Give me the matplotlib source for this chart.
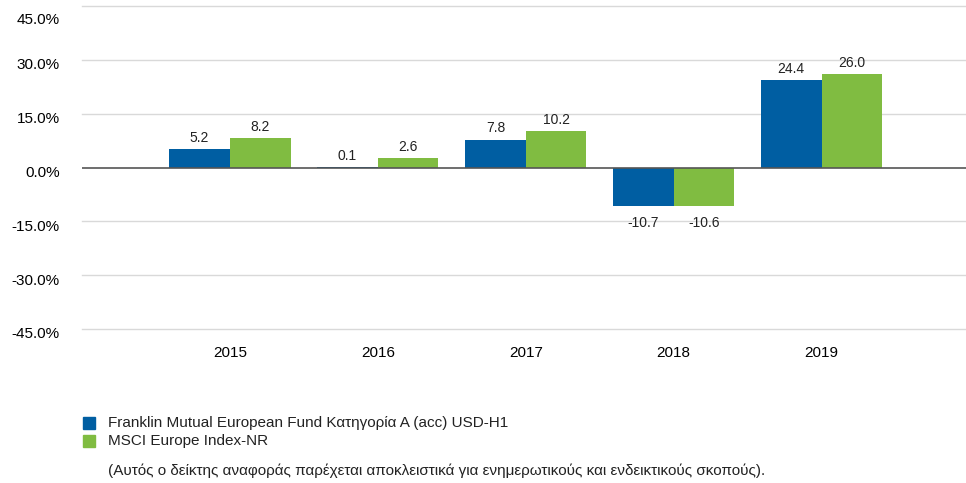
import matplotlib.pyplot as plt
import matplotlib.transforms as mtransforms
import numpy as np

years = ["2015", "2016", "2017", "2018", "2019"]
fund = [5.2, 0.1, 7.8, -10.7, 24.4]
index = [8.2, 2.6, 10.2, -10.6, 26.0]
yticks = [45, 30, 15, 0, -15, -30, -45]

fund_name = "Franklin Mutual European Fund Κατηγορία A (acc) USD-H1"
index_name = "MSCI Europe Index-NR"
note = "(Αυτός ο δείκτης αναφοράς παρέχεται αποκλειστικά για ενημερωτικούς και ενδεικτικούς σκοπούς)."

BLUE = "#005ea2"
GREEN = "#80bc41"

plt.rcParams["font.family"] = ["Liberation Sans", "DejaVu Sans"]

fig = plt.figure(figsize=(9.66, 4.83), dpi=100)
ax = fig.add_axes([82 / 966, 1 - 329 / 483, 1 - 82 / 966, (329 - 6) / 483])

x = np.arange(1, len(years) + 1)
w = 0.41
b1 = ax.bar(x - w / 2, fund, w, color=BLUE, zorder=3)
b2 = ax.bar(x + w / 2, index, w, color=GREEN, zorder=3)

for bars, vals in [(b1, fund), (b2, index)]:
    for r, v in zip(bars, vals):
        cx = r.get_x() + r.get_width() / 2
        if v >= 0:
            ax.text(cx, v + 1.2, f"{v:.1f}", ha="center", va="bottom", fontsize=10, color="#222222")
        else:
            ax.text(cx, v - 2.8, f"{v:.1f}", ha="center", va="top", fontsize=10, color="#222222")

ax.set_xlim(0, 888 / 148 * (1 - 0.004))
ax.set_ylim(-45, 45)
ax.set_yticks(yticks)
ax.set_yticklabels([f"{t:.1f}%" for t in yticks], fontsize=11)
ax.set_xticks(x)
ax.set_xticklabels(years, fontsize=11)
ax.tick_params(axis="y", length=0, pad=16)
ax.tick_params(axis="x", length=0, pad=12)

# y labels sit a little below their gridlines, top one pushed inside the figure
for lab, t in zip(ax.get_yticklabels(), yticks):
    dy = -13 if t == 45 else -4
    lab.set_transform(lab.get_transform() + mtransforms.ScaledTranslation(0, dy / 100, fig.dpi_scale_trans))

for t in yticks:
    if t != 0:
        ax.axhline(t, color="#d9d9d9", linewidth=1, zorder=1, clip_on=False)
ax.axhline(0, color="#555555", linewidth=1.2, zorder=4)
for s in ax.spines.values():
    s.set_visible(False)

# legend
fig.patches.append(plt.Rectangle((83 / 966, 1 - 429 / 483), 12 / 966, 12 / 483,
                                 transform=fig.transFigure, color=BLUE))
fig.patches.append(plt.Rectangle((83 / 966, 1 - 447 / 483), 12 / 966, 12 / 483,
                                 transform=fig.transFigure, color=GREEN))
fig.text(108 / 966, 1 - 423 / 483, fund_name, fontsize=11, va="center", color="#222222")
fig.text(108 / 966, 1 - 441 / 483, index_name, fontsize=11, va="center", color="#222222")
fig.text(108 / 966, 1 - 471 / 483, note, fontsize=11, va="center", color="#222222")

fig.savefig("out.png", dpi=100)
